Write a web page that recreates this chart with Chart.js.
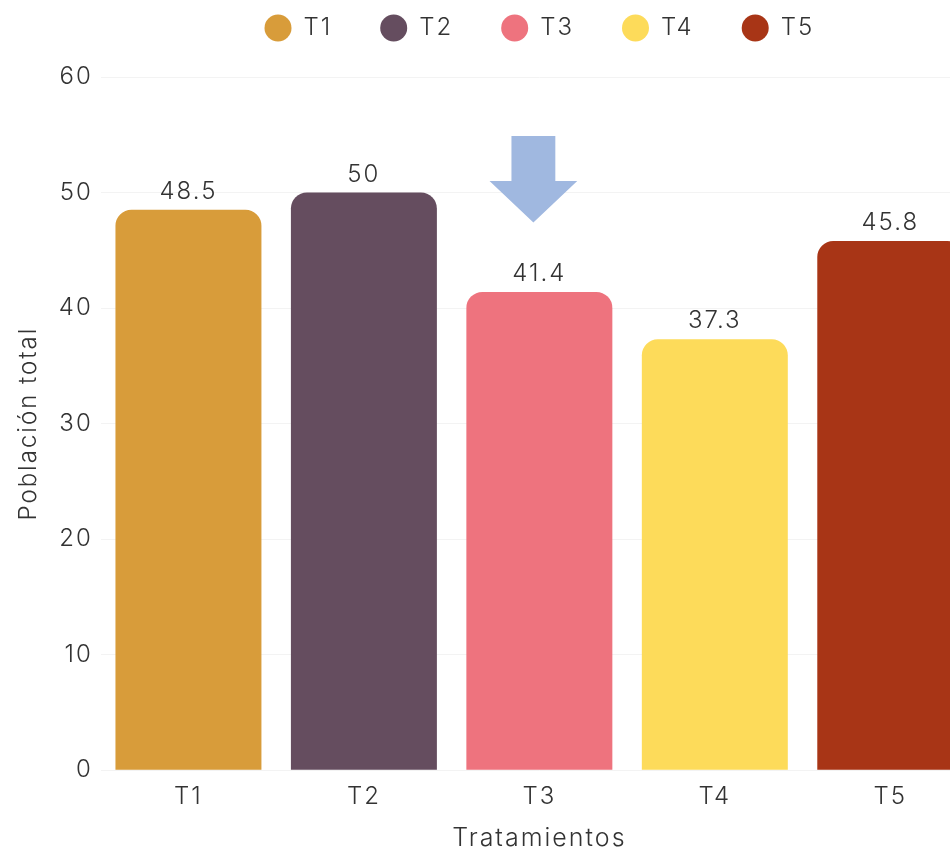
<!DOCTYPE html>
<html>
<head>
<meta charset="utf-8">
<script src="https://cdn.jsdelivr.net/npm/chart.js@4"></script>
<style>
  html, body { margin: 0; padding: 0; background: #fff; overflow: hidden; }
  #wrap { width: 978px; height: 851px; }
</style>
</head>
<body>
<div id="wrap"><canvas id="c"></canvas></div>
<script>
const categories = ['T1', 'T2', 'T3', 'T4', 'T5'];
const seriesNames = ['T1', 'T2', 'T3', 'T4', 'T5'];
const values = [48.5, 50, 41.4, 37.3, 45.8];
const colors = ['#D89C3A', '#654D5F', '#EE737E', '#FDDB5A', '#A83516'];
const yTicks = [0, 10, 20, 30, 40, 50, 60];
// arrow annotation in data units (category position, y values)
const arrowCategory = 1.966;
const arrowTop = 54.9, arrowNeck = 51.0, arrowTip = 47.4;
const arrowShaftHalf = 0.125, arrowHeadHalf = 0.25;

const FONT = "Inter, 'Open Sans', sans-serif";
const TEXT = '#333333';
const SPACING = '2px';

const datasets = seriesNames.map((name, i) => ({
  label: name,
  data: categories.map((c, j) => (j === i ? values[i] : null)),
  backgroundColor: colors[i],
  borderRadius: { topLeft: 16, topRight: 16, bottomLeft: 0, bottomRight: 0 },
  borderSkipped: false,
  categoryPercentage: 0.832,
  barPercentage: 1,
}));

const spacingPlugin = {
  id: 'spacing',
  beforeLayout(chart) { chart.ctx.letterSpacing = SPACING; },
  beforeDraw(chart) { chart.ctx.letterSpacing = SPACING; }
};

const valueLabels = {
  id: 'valueLabels',
  afterDatasetsDraw(chart) {
    const ctx = chart.ctx;
    ctx.save();
    ctx.font = "300 24px " + FONT;
    ctx.fillStyle = TEXT;
    ctx.textAlign = 'center';
    ctx.textBaseline = 'alphabetic';
    chart.data.datasets.forEach((ds, i) => {
      const meta = chart.getDatasetMeta(i);
      meta.data.forEach((el, j) => {
        const v = ds.data[j];
        if (v === null || v === undefined) return;
        ctx.fillText(String(v), el.x, el.y - 11);
      });
    });
    ctx.restore();
  }
};

const arrowPlugin = {
  id: 'arrow',
  afterDatasetsDraw(chart) {
    const x = chart.scales.x, y = chart.scales.y;
    const cx = x.getPixelForValue(arrowCategory);
    const step = x.getPixelForValue(1) - x.getPixelForValue(0);
    const sh = step * arrowShaftHalf, hh = step * arrowHeadHalf;
    const yt = y.getPixelForValue(arrowTop), yn = y.getPixelForValue(arrowNeck), yp = y.getPixelForValue(arrowTip);
    const ctx = chart.ctx;
    ctx.save();
    ctx.fillStyle = '#A0B8E0';
    ctx.beginPath();
    ctx.moveTo(cx - sh, yt);
    ctx.lineTo(cx + sh, yt);
    ctx.lineTo(cx + sh, yn);
    ctx.lineTo(cx + hh, yn);
    ctx.lineTo(cx, yp);
    ctx.lineTo(cx - hh, yn);
    ctx.lineTo(cx - sh, yn);
    ctx.closePath();
    ctx.fill();
    ctx.restore();
  }
};

// extra gap below the legend
const legendGap = {
  id: 'legendGap',
  beforeLayout(chart) {
    const lg = chart.legend;
    if (lg && !lg._gapWrapped) {
      const fit = lg.fit;
      lg.fit = function () { fit.call(this); this.height += 27; };
      lg._gapWrapped = true;
    }
  }
};

new Chart(document.getElementById('c'), {
  type: 'bar',
  data: { labels: categories, datasets },
  options: {
    responsive: true,
    maintainAspectRatio: false,
    animation: false,
    layout: { padding: { left: 14, right: 0, top: -32, bottom: -2 } },
    datasets: { bar: { grouped: true, skipNull: true } },
    plugins: {
      legend: {
        position: 'top',
        fullSize: false,
        labels: {
          usePointStyle: true,
          pointStyle: 'circle',
          pointStyleWidth: 27,
          boxHeight: 19,
          boxWidth: 27,
          padding: 48,
          color: TEXT,
          font: { family: FONT, size: 24, weight: 300 },
        }
      },
      tooltip: { enabled: false },
    },
    scales: {
      x: {
        grid: { display: false },
        border: { display: false },
        ticks: { color: TEXT, font: { family: FONT, size: 24, weight: 300 }, padding: 4 },
        title: { display: true, text: 'Tratamientos', color: TEXT, font: { family: FONT, size: 25, weight: 300 }, padding: { top: 8, bottom: 0 } },
      },
      y: {
        min: 0, max: 60,
        afterBuildTicks(axis) { axis.ticks = yTicks.map(v => ({ value: v })); },
        grid: { color: '#F3F3F3', drawTicks: false },
        border: { display: false },
        ticks: { color: TEXT, font: { family: FONT, size: 24, weight: 300 }, padding: 8 },
        title: { display: true, text: 'Población total', color: TEXT, font: { family: FONT, size: 24, weight: 300 }, padding: { top: 0, bottom: 8 } },
      }
    }
  },
  plugins: [spacingPlugin, valueLabels, arrowPlugin, legendGap]
});
</script>
</body>
</html>
